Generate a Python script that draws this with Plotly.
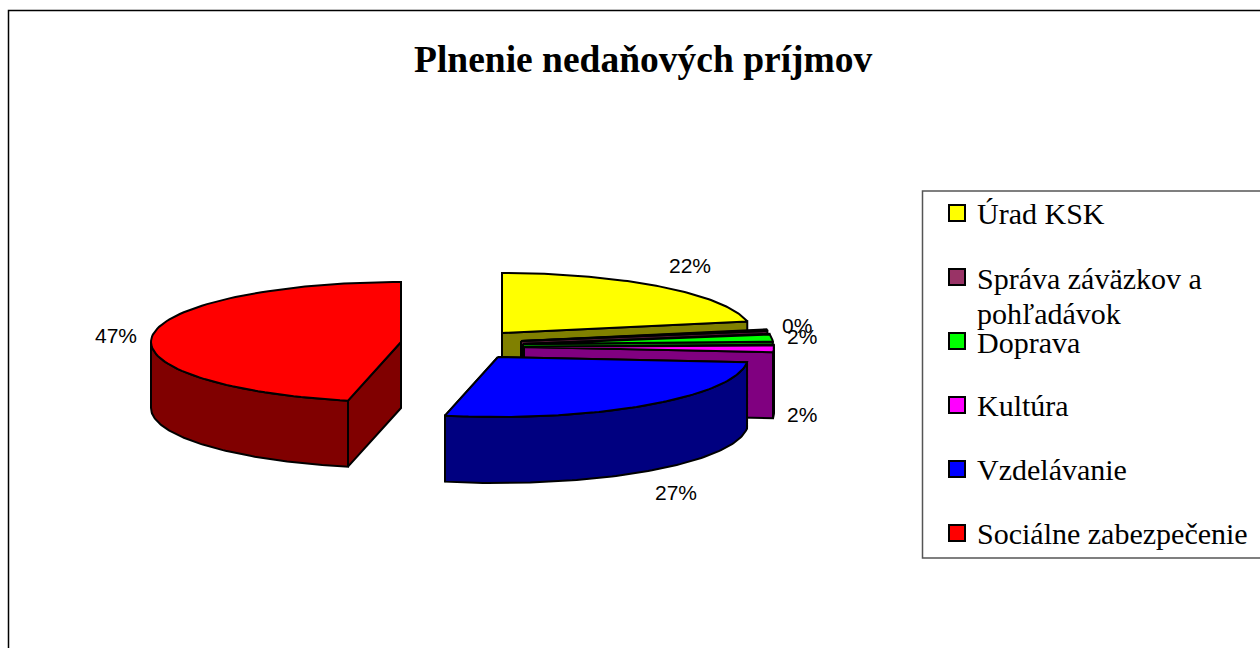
import numpy as np
import plotly.graph_objects as go

categories = ["Úrad KSK", "Správa záväzkov a", "pohľadávok", "Doprava", "Kultúra", "Vzdelávanie", "Sociálne zabezpečenie"]
shares = [21.9, 0.4, 2.1, 2.0, 27.0, 46.6]
labels = ["22%", "0%", "2%", "2%", "27%", "47%"]
top_colors = ["#FFFF00", "#993366", "#00FF00", "#FF00FF", "#0000FF", "#FF0000"]
side_colors = ["#808000", "#4D1A33", "#008000", "#800080", "#000080", "#800000"]
centers = [(502, 333), (521, 341), (523, 344), (524, 347), (498, 357), (401, 342)]
label_pos = [(690, 265), (797, 325), (802, 336), (802, 414), (676, 492), (116, 335)]
legend_y = [213, 277, 341, 405, 469, 533]
legend_text_y = [213, 278, 313, 342, 405, 469, 533]
RX, RY, DEPTH = 250, 60, 66

fig = go.Figure()

def poly(xs, ys, color):
    fig.add_trace(go.Scatter(x=xs, y=ys, mode="lines", fill="toself", fillcolor=color,
                             line=dict(color="black", width=2), hoverinfo="skip", showlegend=False))

def rim(cx, cy, t):
    return cx + RX * np.sin(t), cy - RY * np.cos(t)

edges = np.radians(np.cumsum([0] + shares) * 3.6)
order = [0, 5, 1, 2, 3, 4]
for i in order:
    a, b = edges[i], edges[i + 1]
    cx, cy = centers[i]
    t = np.linspace(a, b, 90)
    x, y = rim(cx, cy, t)
    ex, ey = rim(cx, cy, b)
    sx, sy = rim(cx, cy, a)
    # cut faces
    poly([cx, sx, sx, cx, cx], [cy, sy, sy + DEPTH, cy + DEPTH, cy], side_colors[i])
    poly([cx, ex, ex, cx, cx], [cy, ey, ey + DEPTH, cy + DEPTH, cy], side_colors[i])
    # outer wall, front half only
    lo, hi = max(a, np.pi / 2), min(b, 3 * np.pi / 2)
    if hi > lo:
        tw = np.linspace(lo, hi, 90)
        wx, wy = rim(cx, cy, tw)
        poly(np.r_[wx, wx[::-1], wx[0]], np.r_[wy, wy[::-1] + DEPTH, wy[0]], side_colors[i])
    # top face
    poly(np.r_[cx, x, cx], np.r_[cy, y, cy], top_colors[i])

fig.add_trace(go.Scatter(x=[957] * 6, y=legend_y, mode="markers", hoverinfo="skip", showlegend=False,
                         marker=dict(symbol="square", size=16, color=top_colors, line=dict(color="black", width=2))))

ann = []
for t, (x, y) in zip(labels, label_pos):
    ann.append(dict(x=x, y=y, text=t, showarrow=False, xanchor="center", yanchor="middle",
                    font=dict(family="Liberation Sans", size=21, color="black")))
for t, y in zip(categories, legend_text_y):
    ann.append(dict(x=975, y=y, text=t, showarrow=False, xanchor="left", yanchor="middle", align="left",
                    font=dict(family="Liberation Serif", size=30, color="black")))
ann.append(dict(x=643, y=59, text="<b>Plnenie nedaňových príjmov</b>", showarrow=False,
                font=dict(family="Liberation Serif", size=37.5, color="black")))

fig.update_layout(
    width=1260, height=648, margin=dict(l=0, r=0, t=0, b=0),
    paper_bgcolor="white", plot_bgcolor="white", showlegend=False, annotations=ann,
    xaxis=dict(range=[0, 1260], visible=False, fixedrange=True),
    yaxis=dict(range=[648, 0], visible=False, fixedrange=True),
    shapes=[
        dict(type="rect", x0=8.5, y0=10.5, x1=1300, y1=700, line=dict(color="black", width=1.5), layer="below"),
        dict(type="rect", x0=922.5, y0=191, x1=1300, y1=558, line=dict(color="#555555", width=1.5), layer="below"),
    ],
)
fig.write_html("out.html", config={"displayModeBar": False},
               post_script="document.body.style.margin='0';document.documentElement.style.overflow='hidden';")
